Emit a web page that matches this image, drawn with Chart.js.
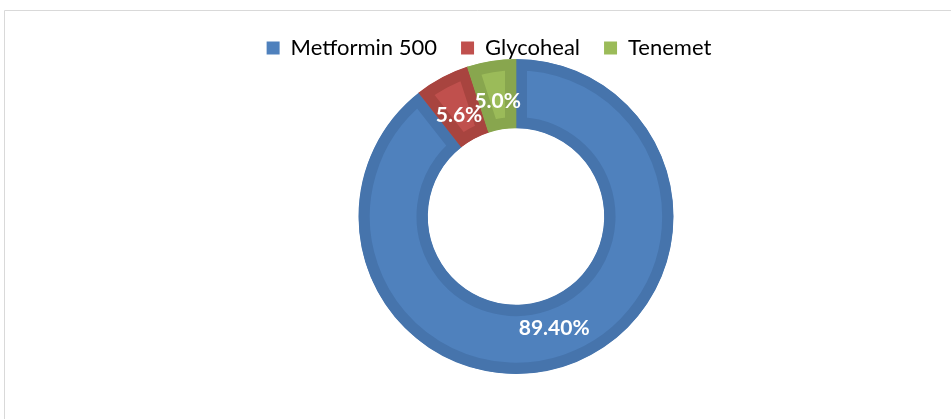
<!DOCTYPE html>
<html>
<head>
<meta charset="utf-8">
<script src="https://cdn.jsdelivr.net/npm/chart.js@4/dist/chart.umd.min.js"></script>
<style>
html,body{margin:0;padding:0;background:#fff;overflow:hidden;}
#wrap{position:relative;width:951px;height:419px;}
</style>
</head>
<body>
<div id="wrap"><canvas id="c" width="951" height="419"></canvas></div>
<script>
const categories = ["Metformin 500", "Glycoheal", "Tenemet"];
const values = [89.4, 5.6, 5.0];
const valueLabels = ["89.40%", "5.6%", "5.0%"];
const fillColors = ["#4F81BD", "#C0504D", "#9BBB59"];
const borderColors = ["#4674AC", "#A8443F", "#88A64E"];

const framePlugin = {
  id: 'frame',
  beforeDraw(chart) {
    const ctx = chart.ctx;
    ctx.save();
    ctx.strokeStyle = '#D9D9D9';
    ctx.lineWidth = 1;
    ctx.beginPath();
    ctx.moveTo(4.5, 419);
    ctx.lineTo(4.5, 10.5);
    ctx.lineTo(951, 10.5);
    ctx.stroke();
    ctx.restore();
  }
};

const legendShift = {
  id: 'legendShift',
  afterLayout(chart) {
    const lg = chart.legend;
    if (lg) { lg.left -= 27; lg.right -= 27; lg.top += 10; lg.bottom += 10; }
  }
};

const labelPlugin = {
  id: 'arcLabels',
  afterDatasetsDraw(chart) {
    const ctx = chart.ctx;
    const meta = chart.getDatasetMeta(0);
    ctx.save();
    ctx.fillStyle = '#FFFFFF';
    ctx.font = 'bold 21px Lato, "Open Sans", sans-serif';
    ctx.textAlign = 'center';
    ctx.textBaseline = 'middle';
    meta.data.forEach((arc, i) => {
      const p = arc.getProps(['x','y','startAngle','endAngle','innerRadius','outerRadius'], true);
      const mid = (p.startAngle + p.endAngle) / 2;
      const r = (p.innerRadius + p.outerRadius) / 2 - 6;
      let x = p.x + Math.cos(mid) * r;
      let y = p.y + Math.sin(mid) * r;
      if (i === 0) { x += 0; y += 1; }
      if (i === 1) { x -= 2; y += 2; }
      ctx.fillText(valueLabels[i], x, y);
    });
    ctx.restore();
  }
};

new Chart(document.getElementById('c'), {
  type: 'doughnut',
  data: {
    labels: categories,
    datasets: [{
      data: values,
      backgroundColor: fillColors,
      borderColor: borderColors,
      borderWidth: 11,
      borderAlign: 'inner',
      hoverOffset: 0
    }]
  },
  options: {
    responsive: false,
    animation: false,
    cutout: '56%',
    rotation: 0,
    layout: { padding: { left: 81, right: 0, top: 3, bottom: 45 } },
    plugins: {
      tooltip: { enabled: false },
      legend: {
        position: 'top',
        labels: {
          boxWidth: 13,
          boxHeight: 13,
          padding: 24,
          color: '#595959',
          font: { size: 22, family: 'Lato, "Open Sans", sans-serif' },
          generateLabels(chart) {
            return categories.map((c, i) => ({
              text: c,
              fillStyle: fillColors[i],
              strokeStyle: fillColors[i],
              lineWidth: 0,
              index: i,
              hidden: false
            }));
          }
        }
      }
    }
  },
  plugins: [framePlugin, legendShift, labelPlugin]
});
</script>
</body>
</html>
